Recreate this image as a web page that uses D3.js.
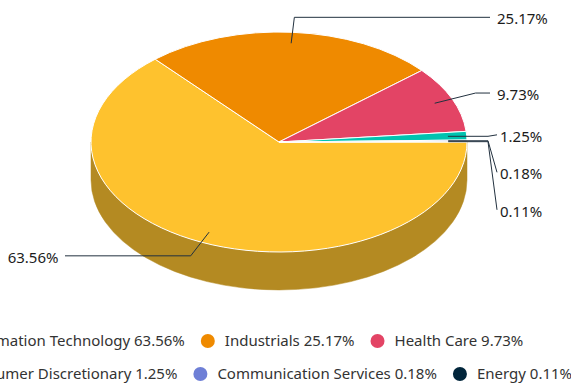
<!DOCTYPE html>
<html>
<head>
<meta charset="utf-8">
<script src="https://cdn.jsdelivr.net/npm/d3@7"></script>
<style>
  html, body { margin: 0; padding: 0; background: #ffffff; }
  svg { display: block; font-family: "Noto Sans", sans-serif; }
</style>
</head>
<body>
<svg id="chart" width="571" height="383"></svg>
<script>
// Sector weights (percent)
const categories = ["Information Technology", "Industrials", "Health Care",
                    "Consumer Discretionary", "Communication Services", "Energy"];
const values = [63.56, 25.17, 9.73, 1.25, 0.18, 0.11];
const colors = ["#fec22e", "#ef8a00", "#e34465", "#00c3b0", "#6e7fd6", "#01253b"];
const valueLabels = values.map(v => v.toFixed(2) + "%");

const svg = d3.select("#chart");

// Tilted pie geometry
const cx = 279, cy = 142;
const rx = 188, ry = 110;
const depth = 38;

// d3.pie angles start at 12 o'clock; start at 3 o'clock going clockwise
const pie = d3.pie().sort(null).value(d => d.value)
  .startAngle(Math.PI / 2).endAngle(Math.PI / 2 + 2 * Math.PI);
const data = categories.map((c, i) => ({ name: c, value: values[i], color: colors[i], label: valueLabels[i] }));
const arcs = pie(data).map(a => ({ ...a, t0: a.startAngle - Math.PI / 2, t1: a.endAngle - Math.PI / 2 }));

const pt = (t, f = 1, dy = 0) => [cx + rx * f * Math.cos(t), cy + ry * f * Math.sin(t) + dy];
const darken = c => { const k = d3.rgb(c); return d3.rgb(k.r * 0.71, k.g * 0.71, k.b * 0.74).formatHex(); };

// Side walls (only the front half, 0..PI, faces the viewer)
const gSide = svg.append("g");
arcs.forEach(a => {
  const s = Math.max(a.t0, 0), e = Math.min(a.t1, Math.PI);
  if (e <= s) return;
  const p0 = pt(s), p1 = pt(e), q1 = pt(e, 1, depth), q0 = pt(s, 1, depth);
  const large = (e - s) > Math.PI ? 1 : 0;
  const d = `M${p0}A${rx},${ry} 0 ${large} 1 ${p1}L${q1}A${rx},${ry} 0 ${large} 0 ${q0}Z`;
  const col = darken(a.data.color);
  gSide.append("path").attr("d", d).attr("fill", col).attr("stroke", col).attr("stroke-width", 0.5);
});

// Top faces
const gTop = svg.append("g");
arcs.forEach(a => {
  const p0 = pt(a.t0), p1 = pt(a.t1);
  const large = (a.t1 - a.t0) > Math.PI ? 1 : 0;
  const d = `M${cx},${cy}L${p0}A${rx},${ry} 0 ${large} 1 ${p1}Z`;
  gTop.append("path").attr("d", d).attr("fill", a.data.color)
    .attr("stroke", "#ffffff").attr("stroke-width", 1).attr("stroke-linejoin", "round");
});

// Data labels with connectors
const labelGap = 15;        // vertical distance beyond the rim
const minSpacing = 37.5;    // label collision spacing
const lineEndR = 490, textR = 497;
const lineEndL = 65, textL = 58.5;

const labels = arcs.map(a => {
  const mid = (a.t0 + a.t1) / 2;
  const right = Math.cos(mid) >= 0;
  const anchor = pt(mid, 0.9);
  return { a, mid, right, anchor, y: cy + (ry + labelGap) * Math.sin(mid) };
});
[true, false].forEach(side => {
  const group = labels.filter(l => l.right === side).sort((p, q) => p.y - q.y);
  for (let i = 1; i < group.length; i++) {
    if (group[i].y < group[i - 1].y + minSpacing) group[i].y = group[i - 1].y + minSpacing;
  }
});

const gLab = svg.append("g");
labels.forEach(l => {
  const [ax, ay] = l.anchor;
  const lineEnd = l.right ? lineEndR : lineEndL;
  const crookX = cx + (ax - cx) * (l.y - cy) / (ay - cy);
  const ok = l.right ? (crookX <= lineEnd && crookX >= ax) : (crookX >= lineEnd && crookX <= ax);
  let d;
  if (ok) {
    d = `M${lineEnd},${l.y}L${crookX},${l.y}L${ax},${ay}`;
  } else {
    const dir = l.right ? 1 : -1;
    d = `M${lineEnd + dir * 7},${l.y}L${lineEnd - dir * 2},${ay}L${ax},${ay}`;
  }
  gLab.append("path").attr("d", d).attr("fill", "none")
    .attr("stroke", "#22313f").attr("stroke-width", 1);
  gLab.append("text")
    .attr("x", l.right ? (ok ? textR : textR + 3) : textL)
    .attr("y", l.y + 6.7)
    .attr("text-anchor", l.right ? "start" : "end")
    .attr("font-size", 15).attr("fill", "#1c1c1c")
    .text(l.a.data.label);
});

// Legend: rows of three items, rows left-aligned, box centred
const legendRows = [[0, 1, 2], [3, 4, 5]];
const rowY = [341, 374];
const legendCenter = 254.5;
const symR = 7, symToText = 17, textToSym = 23;
const gLeg = svg.append("g");

// measure item texts
const measure = gLeg.append("text").attr("font-size", 15).attr("visibility", "hidden");
const itemText = data.map(d => `${d.name} ${d.label}`);
const widths = itemText.map(t => { measure.text(t); return measure.node().getComputedTextLength(); });
measure.remove();

const rowWidth = row => row.reduce((s, i, k) => s + (k ? textToSym : 0) + symToText + widths[i], 0) + symR;
const maxW = d3.max(legendRows, rowWidth);
const startX = legendCenter - maxW / 2 + symR;

legendRows.forEach((row, r) => {
  let x = startX;
  row.forEach(i => {
    gLeg.append("circle").attr("cx", x).attr("cy", rowY[r]).attr("r", symR).attr("fill", data[i].color);
    gLeg.append("text").attr("x", x + symToText).attr("y", rowY[r] + 5)
      .attr("font-size", 15).attr("fill", "#333333").text(itemText[i]);
    x += symToText + widths[i] + textToSym;
  });
});
</script>
</body>
</html>
